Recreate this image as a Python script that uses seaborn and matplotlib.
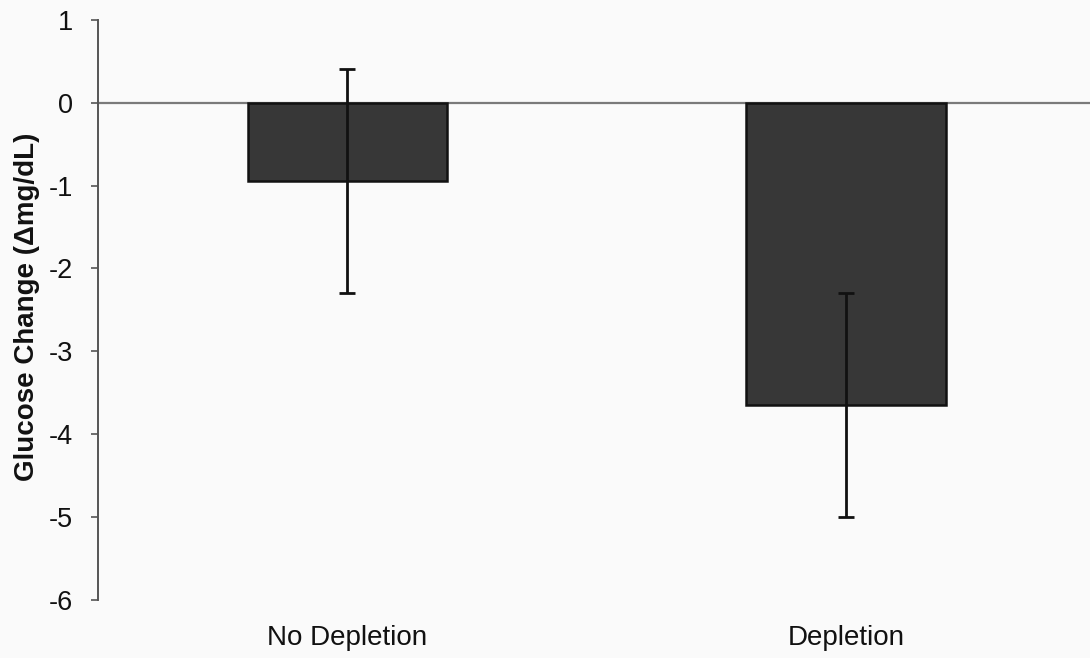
import matplotlib
matplotlib.use("Agg")
import matplotlib.pyplot as plt
import seaborn as sns
import pandas as pd

# Mean glucose change per condition with error (± SEM)
conditions = ["No Depletion", "Depletion"]
glucose_change = [-0.95, -3.65]
error = [1.35, 1.35]
y_ticks = [1, 0, -1, -2, -3, -4, -5, -6]

sns.set_theme(style="white")
plt.rcParams["font.family"] = ["Liberation Sans", "DejaVu Sans"]

df = pd.DataFrame({"condition": conditions, "change": glucose_change})

fig = plt.figure(figsize=(10.9, 6.58), dpi=100, facecolor="#fafafa")
ax = fig.add_axes([0.09, 0.088, 0.915, 0.882])
ax.set_facecolor("#fafafa")

sns.barplot(data=df, x="condition", y="change", order=conditions,
            color="#373737", edgecolor="#111111", linewidth=1.8,
            width=0.4, errorbar=None, ax=ax, zorder=2)

ax.errorbar(x=range(len(conditions)), y=glucose_change, yerr=error,
            fmt="none", ecolor="#111111", elinewidth=2.0, capsize=6,
            capthick=2.0, zorder=3)

# zero reference line acting as the category axis
ax.axhline(0, color="#7a7a7a", linewidth=1.6, zorder=1)

ax.set_xlim(-0.5, 1.5)
ax.set_ylim(-6, 1)
ax.set_yticks(y_ticks)
ax.set_yticklabels([str(t) for t in y_ticks])

for side in ["top", "right", "bottom"]:
    ax.spines[side].set_visible(False)
ax.spines["left"].set_color("#555555")
ax.spines["left"].set_linewidth(1.4)

ax.tick_params(axis="y", direction="out", length=5, width=1.2,
               color="#555555", pad=13, labelsize=19.5, left=True,
               labelcolor="#111111")
ax.tick_params(axis="x", length=0, pad=18, labelsize=20,
               labelcolor="#111111")

ax.set_xlabel("")
ax.set_ylabel("Glucose Change (Δmg/dL)", fontsize=20, fontweight="bold",
              color="#111111")
ax.yaxis.set_label_coords(-0.058, 0.505)

fig.savefig("out.png", dpi=100, facecolor=fig.get_facecolor())
